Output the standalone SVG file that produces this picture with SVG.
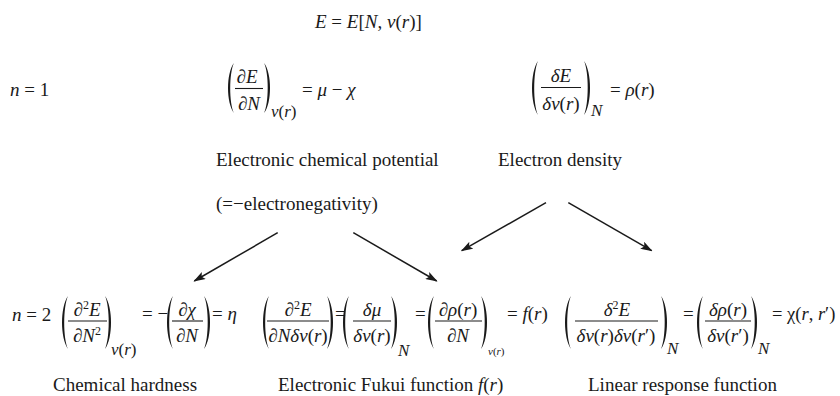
<svg xmlns="http://www.w3.org/2000/svg" width="840" height="396" viewBox="0 0 840 396">
<defs>
<style>
text{font-family:"Liberation Serif","DejaVu Serif",serif;font-size:19px;fill:#1a1a1a}
.i{font-style:italic}
.m{text-anchor:middle}
.sub{font-size:17px}
.ss{font-size:11px}
.sup{font-size:12px}
.bar{stroke:#1a1a1a;stroke-width:1.1}
.par{fill:#1a1a1a}
.arr{stroke:#1a1a1a;stroke-width:1.5;fill:none;marker-end:url(#ah)}
</style>
<marker id="ah" viewBox="0 0 12 8" refX="11" refY="4" markerWidth="12" markerHeight="8" markerUnits="userSpaceOnUse" orient="auto">
<path d="M0,0 L12,4 L0,8 L2.5,4 Z" fill="#1a1a1a"/>
</marker>
</defs>
<rect width="840" height="396" fill="#fff"/>

<g id="top">
<text x="315" y="28"><tspan class="i">E</tspan> = <tspan class="i">E</tspan>[<tspan class="i">N</tspan>, <tspan class="i">ν</tspan>(<tspan class="i">r</tspan>)]</text>
</g>

<g id="row1-label"><text x="10" y="96"><tspan class="i">n</tspan> = 1</text></g>

<g id="chem-potential">
<path class="par" d="M234,63 C226,73 226,103 234,113 C229,103 229,73 234,63 Z"/>
<text class="m" x="247" y="83"><tspan class="i">∂E</tspan></text>
<line class="bar" x1="235" y1="88.5" x2="263" y2="88.5"/>
<text class="m" x="249" y="110"><tspan class="i">∂N</tspan></text>
<path class="par" d="M264,63 C272,73 272,103 264,113 C269,103 269,73 264,63 Z"/>
<text class="sub" x="271" y="117"><tspan class="i">ν</tspan>(<tspan class="i">r</tspan>)</text>
<text x="302" y="96">= <tspan class="i">μ</tspan> − <tspan class="i">χ</tspan></text>
<text x="216" y="166">Electronic chemical potential</text>
<text x="216" y="210">(=−electronegativity)</text>
</g>

<g id="electron-density">
<path class="par" d="M538,61 C530,72 530,104 538,115 C533,104 533,72 538,61 Z"/>
<text class="m" x="561" y="82"><tspan class="i">δE</tspan></text>
<line class="bar" x1="541" y1="87.5" x2="581" y2="87.5"/>
<text class="m" x="561" y="110"><tspan class="i">δν</tspan>(<tspan class="i">r</tspan>)</text>
<path class="par" d="M584,61 C592,72 592,104 584,115 C589,104 589,72 584,61 Z"/>
<text class="sub i" x="591" y="116">N</text>
<text x="610" y="96">= <tspan class="i">ρ</tspan>(<tspan class="i">r</tspan>)</text>
<text x="498" y="166">Electron density</text>
</g>

<g id="connectors">
<line class="arr" x1="277.7" y1="232.7" x2="194.3" y2="281"/>
<line class="arr" x1="353.3" y1="232.7" x2="436.7" y2="281"/>
<line class="arr" x1="546" y1="202.7" x2="461.7" y2="250.7"/>
<line class="arr" x1="568.3" y1="202.7" x2="651.7" y2="250.7"/>
</g>

<g id="row2-label"><text x="12" y="321"><tspan class="i">n</tspan> = 2</text></g>

<g id="hardness">
<path class="par" d="M68,296 C60,307 60,338 68,349 C63,338 63,307 68,296 Z"/>
<text class="m" x="87" y="316"><tspan class="i">∂</tspan><tspan class="sup" dy="-7">2</tspan><tspan class="i" dy="7">E</tspan></text>
<line class="bar" x1="68" y1="321" x2="107" y2="321"/>
<text class="m" x="87" y="342"><tspan class="i">∂N</tspan><tspan class="sup" dy="-7">2</tspan></text>
<path class="par" d="M105,296 C113,307 113,338 105,349 C110,338 110,307 105,296 Z"/>
<text class="sub" x="111" y="355"><tspan class="i">ν</tspan>(<tspan class="i">r</tspan>)</text>
<text x="142" y="320">= −</text>
<path class="par" d="M173,296 C165,307 165,338 173,349 C168,338 168,307 173,296 Z"/>
<text class="m" x="187" y="316"><tspan class="i">∂χ</tspan></text>
<line class="bar" x1="172" y1="321" x2="203" y2="321"/>
<text class="m" x="187" y="342"><tspan class="i">∂N</tspan></text>
<path class="par" d="M204,296 C212,307 212,338 204,349 C209,338 209,307 204,296 Z"/>
<text x="212" y="320">= <tspan class="i">η</tspan></text>
<text x="53" y="391">Chemical hardness</text>
</g>

<g id="fukui">
<path class="par" d="M269,296 C261,307 261,338 269,349 C264,338 264,307 269,296 Z"/>
<text class="m" x="298" y="316"><tspan class="i">∂</tspan><tspan class="sup" dy="-7">2</tspan><tspan class="i" dy="7">E</tspan></text>
<line class="bar" x1="267" y1="321" x2="329" y2="321"/>
<text class="m" x="298" y="342"><tspan class="i">∂Nδν</tspan>(<tspan class="i">r</tspan>)</text>
<path class="par" d="M327,296 C335,307 335,338 327,349 C332,338 332,307 327,296 Z"/>
<text x="335" y="320">=</text>
<path class="par" d="M349,296 C341,307 341,338 349,349 C344,338 344,307 349,296 Z"/>
<text class="m" x="372" y="316"><tspan class="i">δμ</tspan></text>
<line class="bar" x1="353" y1="321" x2="391" y2="321"/>
<text class="m" x="372" y="342"><tspan class="i">δν</tspan>(<tspan class="i">r</tspan>)</text>
<path class="par" d="M391,296 C399,307 399,338 391,349 C396,338 396,307 391,296 Z"/>
<text class="sub i" x="398" y="356">N</text>
<text x="415" y="320">=</text>
<path class="par" d="M434,296 C426,307 426,338 434,349 C429,338 429,307 434,296 Z"/>
<text class="m" x="458" y="316"><tspan class="i">∂ρ</tspan>(<tspan class="i">r</tspan>)</text>
<line class="bar" x1="435" y1="321" x2="482" y2="321"/>
<text class="m" x="458" y="342"><tspan class="i">∂N</tspan></text>
<path class="par" d="M481,296 C489,307 489,338 481,349 C486,338 486,307 481,296 Z"/>
<text class="ss" x="488" y="355"><tspan class="i">ν</tspan>(<tspan class="i">r</tspan>)</text>
<text x="507" y="320">= <tspan class="i">f</tspan>(<tspan class="i">r</tspan>)</text>
<text x="278" y="391">Electronic Fukui function <tspan class="i">f</tspan>(<tspan class="i">r</tspan>)</text>
</g>

<g id="linear-response">
<path class="par" d="M571,296 C563,307 563,338 571,349 C566,338 566,307 571,296 Z"/>
<text class="m" x="617" y="316"><tspan class="i">δ</tspan><tspan class="sup" dy="-7">2</tspan><tspan class="i" dy="7">E</tspan></text>
<line class="bar" x1="575" y1="321" x2="658" y2="321"/>
<text class="m" x="616" y="342"><tspan class="i">δν</tspan>(<tspan class="i">r</tspan>)<tspan class="i">δν</tspan>(<tspan class="i">r</tspan>′)</text>
<path class="par" d="M661,296 C669,307 669,338 661,349 C666,338 666,307 661,296 Z"/>
<text class="sub i" x="667" y="354">N</text>
<text x="683" y="320">=</text>
<path class="par" d="M703,296 C695,307 695,338 703,349 C698,338 698,307 703,296 Z"/>
<text class="m" x="728" y="316"><tspan class="i">δρ</tspan>(<tspan class="i">r</tspan>)</text>
<line class="bar" x1="705" y1="321" x2="751" y2="321"/>
<text class="m" x="728" y="342"><tspan class="i">δν</tspan>(<tspan class="i">r</tspan>′)</text>
<path class="par" d="M751,296 C759,307 759,338 751,349 C756,338 756,307 751,296 Z"/>
<text class="sub i" x="758" y="354">N</text>
<text x="772" y="320" style="font-size:18.5px">= χ(<tspan class="i">r</tspan>, <tspan class="i">r</tspan>′)</text>
<text x="588" y="391">Linear response function</text>
</g>
</svg>
